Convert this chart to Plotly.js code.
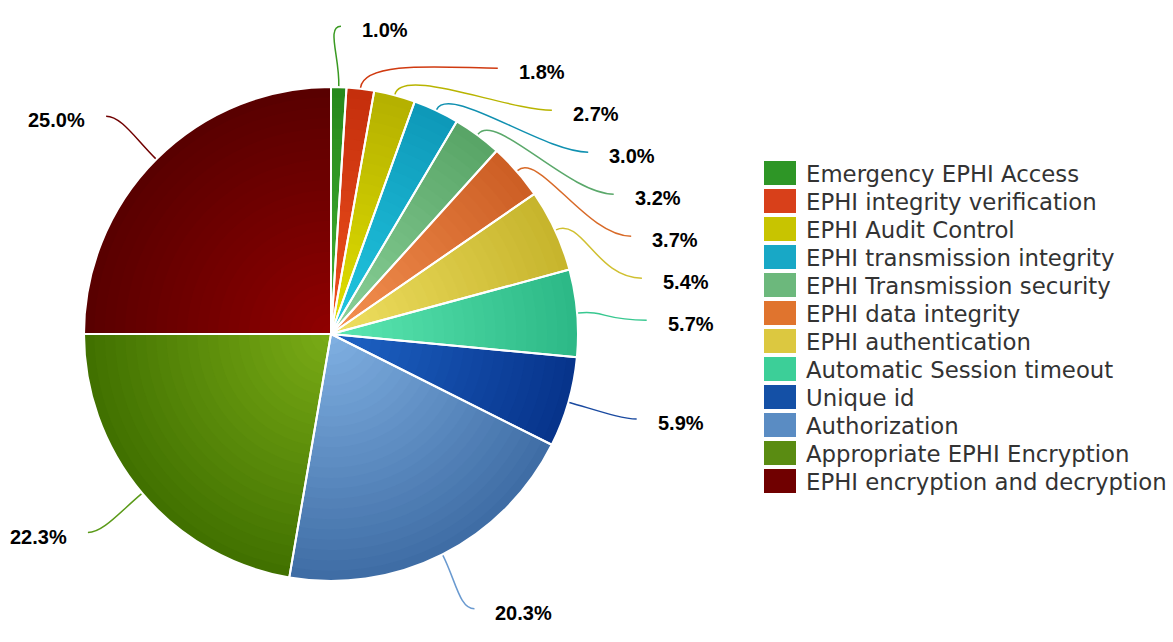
<!DOCTYPE html>
<html><head><meta charset="utf-8">
<script src="https://cdn.plot.ly/plotly-3.0.1.min.js"></script>
<style>html,body{margin:0;padding:0;background:#fff;}#chart{width:1173px;height:642px;}</style>
</head><body><div id="chart"></div>
<script>
const categories = ["Emergency EPHI Access","EPHI integrity verification","EPHI Audit Control","EPHI transmission integrity","EPHI Transmission security","EPHI data integrity","EPHI authentication","Automatic Session timeout","Unique id","Authorization","Appropriate EPHI Encryption","EPHI encryption and decryption"];
const values = [1.0,1.8,2.7,3.0,3.2,3.7,5.4,5.7,5.9,20.3,22.3,25.0];
const centerColors = ['#44b232','#f0521e','#e2e000','#22c8e2','#8cd29a','#f59252','#f0e062','#5ce8b2','#1e64c6','#80b0e2','#7aac16','#900000'];
const edgeColors   = ['#26881c','#c42e0c','#b4b000','#0e98b8','#58a466','#cc5e24','#c6b42c','#2cb886','#06338a','#3e6ca4','#407000','#580000'];
const legendColors = ['#2e9626','#d8401a','#c8c400','#18a8c6','#6cb87c','#e0742e','#dcc840','#3ccf98','#1450a6','#5a8cc3','#5a8c12','#700000'];
const lineColors   = ['#3a9a22','#d03a10','#b8b400','#1090b0','#5aa86a','#d86a28','#d0c030','#38c890','#1a4aa0','#6a9ad0','#5a9a18','#700000'];

const W=1173,H=642;
const CX=331, CY=334, RAD=247;
const cx=CX, cy=CY, r=RAD;
const px = x=>x/W, py = y=>1-y/H;
function domainFor(f){ return {x:[px(cx-r*f),px(cx+r*f)], y:[py(cy+r*f),py(cy-r*f)]}; }
function hex(c){return [1,3,5].map(i=>parseInt(c.substr(i,2),16));}
function mix(a,b,t){const A=hex(a),B=hex(b);return 'rgb('+A.map((v,i)=>Math.round(v+(B[i]-v)*t)).join(',')+')';}

const traces=[];
const N=24;
for(let k=0;k<N;k++){
  const f=1-k/N;
  const t=Math.min(1,Math.max(0,(f-0.5/N)));
  traces.push({type:'pie',labels:categories,values:values,sort:false,direction:'clockwise',rotation:0,
    marker:{colors:centerColors.map((c,i)=>mix(c,edgeColors[i],t)),line:{width:0}},
    textinfo:'none',hoverinfo:'skip',domain:domainFor(f),showlegend:false});
}
traces.push({type:'pie',labels:categories,values:values,sort:false,direction:'clockwise',rotation:0,
  marker:{colors:values.map(()=> 'rgba(0,0,0,0)'),line:{color:'#fff',width:2}},
  textinfo:'none',hoverinfo:'label+percent',domain:domainFor(1),showlegend:false});

const total = values.reduce((a,b)=>a+b,0);
let cum=0;
const items = values.map((v,i)=>{const th=(cum+v/2)/total*2*Math.PI; cum+=v; return {i,v,th};});
const R2=308, R2X=318, GAP=42, EA=316, EB=313;
function layoutSide(list, side){
  let prev=-1e9;
  list.forEach(it=>{
    const ny = cy - R2*Math.cos(it.th), nx = cx + R2X*Math.sin(it.th);
    let y = Math.max(ny, prev+GAP);
    let x = nx; it.moved=false;
    if (y>ny+0.5){ const dy=y-cy; x = cx + side*EA*Math.sqrt(Math.max(0,1-(dy/EB)*(dy/EB))); it.moved=true; }
    it.ex=x; it.ey=y; it.side=side; prev=y;
  });
}
const natY = it=>cy-R2*Math.cos(it.th);
const right = items.filter(it=>Math.sin(it.th)>=0).sort((a,b)=>natY(a)-natY(b));
const left = items.filter(it=>Math.sin(it.th)<0).sort((a,b)=>natY(a)-natY(b));
layoutSide(right,1); layoutSide(left,-1);

const shapes=[], annotations=[];
items.forEach(it=>{
  const s=Math.sin(it.th), c=Math.cos(it.th);
  const x0=cx+(r+1)*s, y0=cy-(r+1)*c;
  const x1=cx+(r+30)*s, y1=cy-(r+30)*c;
  const off = it.moved?45:15;
  const x2=it.ex-it.side*off, y2=it.ey;
  shapes.push({type:'path',xref:'paper',yref:'paper',
    path:`M${px(x0)},${py(y0)} C${px(x1)},${py(y1)} ${px(x2)},${py(y2)} ${px(it.ex)},${py(it.ey)}`,
    line:{color:lineColors[it.i],width:1.5}});
  annotations.push({xref:'paper',yref:'paper',x:px(it.ex+it.side*19),y:py(it.ey+4),
    xanchor: it.side>0?'left':'right', yanchor:'middle', showarrow:false,
    text:'<b>'+it.v.toFixed(1)+'%</b>', font:{family:'Liberation Sans, Arial, sans-serif',size:20,color:'#000'}});
});
categories.forEach((name,i)=>{
  const yc=173+28*i;
  shapes.push({type:'rect',xref:'paper',yref:'paper',x0:px(764),x1:px(796),y0:py(yc-12),y1:py(yc+12),
    fillcolor:legendColors[i],line:{width:0}});
  annotations.push({xref:'paper',yref:'paper',x:px(804),y:py(yc+1),xanchor:'left',yanchor:'middle',showarrow:false,
    text:name,font:{family:'DejaVu Sans, sans-serif',size:22.8,color:'#333'}});
});

Plotly.newPlot('chart',traces,
  {width:W,height:H,margin:{l:0,r:0,t:0,b:0},paper_bgcolor:'#fff',showlegend:false,shapes:shapes,annotations:annotations},
  {displayModeBar:false,staticPlot:true});
</script></body></html>
